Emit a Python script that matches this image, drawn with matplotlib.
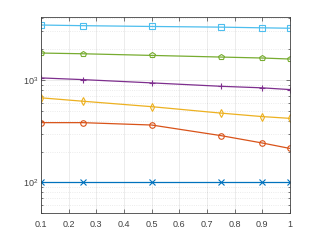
import matplotlib
matplotlib.use("Agg")
import matplotlib.pyplot as plt
from matplotlib.ticker import LogLocator, NullFormatter

plt.rcParams['font.family'] = ['Liberation Sans', 'DejaVu Sans']

# data
x = [0.1, 0.25, 0.5, 0.75, 0.9, 1.0]
blue_x = [100, 100, 100, 100, 100, 100]
orange_o = [384, 384, 364, 287, 243, 215]
yellow_d = [671, 622, 550, 476, 440, 423]
purple_plus = [1050, 1011, 939, 870, 840, 808]
green_p = [1837, 1808, 1742, 1679, 1643, 1606]
cyan_s = [3450, 3400, 3340, 3290, 3240, 3210]

xticks = [0.1, 0.2, 0.3, 0.4, 0.5, 0.6, 0.7, 0.8, 0.9, 1.0]
xticklabels = ['0.1', '0.2', '0.3', '0.4', '0.5', '0.6', '0.7', '0.8', '0.9', '1']

series = [
    (blue_x, '#0072BD', 'x'),
    (orange_o, '#D95319', 'o'),
    (yellow_d, '#EDB120', 'd'),
    (purple_plus, '#7E2F8E', '+'),
    (green_p, '#77AC30', 'p'),
    (cyan_s, '#4DBEEE', 's'),
]

fig = plt.figure(figsize=(3.21, 2.41), dpi=100)
ax = fig.add_axes([0.128, 0.115, 0.775, 0.813])

for vals, col, mk in series:
    ax.plot(x, vals, color=col, marker=mk, markersize=4, markerfacecolor='none',
            markeredgewidth=0.8, linewidth=0.9)

ax.set_yscale('log')
ax.set_xlim(0.1, 1.0)
ax.set_ylim(50, 4100)
ax.set_xticks(xticks)
ax.set_xticklabels(xticklabels)
ax.yaxis.set_major_locator(LogLocator(base=10))
ax.yaxis.set_minor_locator(LogLocator(base=10, subs=range(2, 10)))
ax.yaxis.set_minor_formatter(NullFormatter())

ax.grid(True, which='major', color='#262626', alpha=0.1, linewidth=0.6)
ax.grid(True, which='minor', axis='y', color='#262626', alpha=0.12, linewidth=0.6, linestyle=':')

for s in ax.spines.values():
    s.set_color('#404040')
    s.set_linewidth(0.6)
ax.tick_params(which='both', direction='in', top=True, right=True, colors='#404040',
               labelsize=6.5, width=0.5)
ax.tick_params(which='major', length=3)
ax.tick_params(axis='x', which='major', pad=5)
ax.tick_params(axis='y', which='major', pad=2)
ax.tick_params(which='minor', length=1.5)
for lab in ax.get_xticklabels() + ax.get_yticklabels():
    lab.set_color('#404040')

fig.savefig('out.png', dpi=100)
